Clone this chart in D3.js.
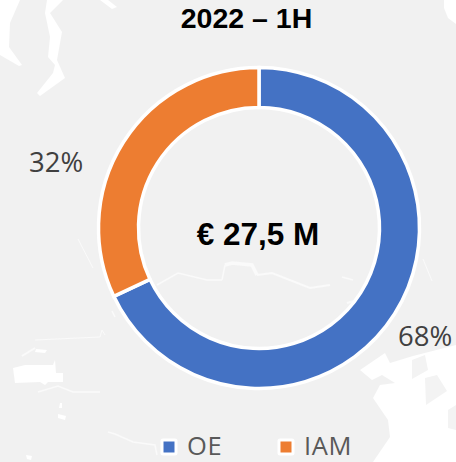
<!DOCTYPE html>
<html><head><meta charset="utf-8">
<script src="https://cdn.jsdelivr.net/npm/d3@7"></script>
<style>html,body{margin:0;padding:0;background:#f1f1f1}svg{display:block}</style>
</head><body><svg id="c" width="456" height="462"></svg>
<script>
const categories = ["OE", "IAM"];
const values = [68, 32];
const labels = ["68%", "32%"];
const colors = ["#4472c4", "#ed7d31"];
const title = "2022 – 1H";
const centerText = "€ 27,5 M";
// decorative backdrop shapes (faint map behind the chart)
const mapFilled = [
 "M0 0H20L10 23L9 47L22 65L19 66L0 55Z",
 "M47 0H63L50 13L62 32L57 60L65 78L40 96L37 93L53 73L55 65L48 57L50 37L45 13Z",
 "M100 0H108L117 7L112 9Z",
 "M444 0H456V24L448 18L444 8Z",
 "M360 370L385 353L390 363L413 356L456 345V462H373L390 437L388 420L373 398L380 385L395 383L382 375L372 380Z",
 "M13 368L25 365H53L55 360L56 373H63V382H48L45 385L40 382L15 383Z",
 "M60 403L62 403L62 408L59 408Z","M58 414L66 416L65 420L58 418Z","M26 455L32 456L31 460L27 459Z",
 "M36 349L47 350L45 353L35 352Z"
];
const mapIslands = [
 "M412 360L425 355L428 370L412 379Z",
 "M425 378L437 375L447 391L426 405Z",
 "M448 410L456 405V430L448 428Z"
];
const mapLines = [
 ["M157 285L178 273L207 280L222 280",1.5],
 ["M225 265L232 263L252 265L257 275",3.5],
 ["M222 280L225 265",1.5],
 ["M257 275L272 273L310 288L330 285",2],
 ["M342 277L353 280",1.5],
 ["M347 303L357 300",2],
 ["M78 239L93 268",1],
 ["M423 259L432 281",1],
 ["M22 356L35 348",2],
 ["M35 340L100 337L102 330L105 335",1],
 ["M38 392L58 386L73 392L100 392",1.5],
 ["M108 432L115 434L133 442L155 445L157 455",1.5],
 ["M112 311L115 317",1.5]
];

const svg = d3.select("#c");
const cx = 259, cy = 228, rOuter = 160.5, rInner = 120.5;

svg.append("filter").attr("id","soft").append("feGaussianBlur").attr("stdDeviation",0.7);
const bg = svg.append("g").attr("filter","url(#soft)");
bg.selectAll("path.f").data(mapFilled).join("path").attr("class","f").attr("d",d=>d).attr("fill","#fff");
bg.selectAll("path.i").data(mapIslands).join("path").attr("class","i").attr("d",d=>d).attr("fill","#f3f3f3");
bg.selectAll("path.l").data(mapLines).join("path").attr("class","l").attr("d",d=>d[0]).attr("fill","none").attr("stroke","#fafafa").attr("stroke-width",d=>d[1]);

const pie = d3.pie().sort(null).value(d=>d)(values);
const arc = d3.arc().innerRadius(rInner).outerRadius(rOuter);
const g = svg.append("g").attr("transform",`translate(${cx},${cy})`);
g.selectAll("path").data(pie).join("path").attr("d",arc)
  .attr("fill",(d,i)=>colors[i]).attr("stroke","#fff").attr("stroke-width",3.5);

const labelArc = d3.arc().innerRadius(178).outerRadius(178);
// data labels sit outside the ring, offset from each slice's mid angle
const labelPull = [[1.105,1.13],[1.35,0.7]];
g.selectAll("text").data(pie).join("text")
  .attr("x",(d,i)=>labelArc.centroid(d)[0]*labelPull[i][0])
  .attr("y",(d,i)=>labelArc.centroid(d)[1]*labelPull[i][1])
  .attr("text-anchor","middle").attr("dominant-baseline","central")
  .attr("font-family","'Open Sans'").attr("font-size",27.5).attr("fill","#404040")
  .text((d,i)=>labels[i]);

svg.append("text").attr("x",246.5).attr("y",27.5).attr("text-anchor","middle")
  .attr("font-family","'Liberation Sans'").attr("font-weight","bold").attr("font-size",28.5).attr("fill","#000").text(title);
svg.append("text").attr("x",258).attr("y",245).attr("text-anchor","middle")
  .attr("font-family","'Liberation Sans'").attr("font-weight","bold").attr("font-size",31.5).attr("fill","#000").text(centerText);

const lx = d3.scaleOrdinal().domain(categories).range([162,279]);
const leg = svg.append("g").selectAll("g").data(categories).join("g")
  .attr("transform",d=>`translate(${lx(d)},440)`);
leg.append("rect").attr("width",14).attr("height",14).attr("stroke","#fff").attr("stroke-width",3).attr("rx",1)
  .attr("fill",(d,i)=>colors[i]);
leg.append("text").attr("x",25).attr("y",14.5).attr("font-family","'Open Sans'").attr("font-size",25.5).attr("letter-spacing",0.6).attr("fill","#595959").text(d=>d);
</script></body></html>
